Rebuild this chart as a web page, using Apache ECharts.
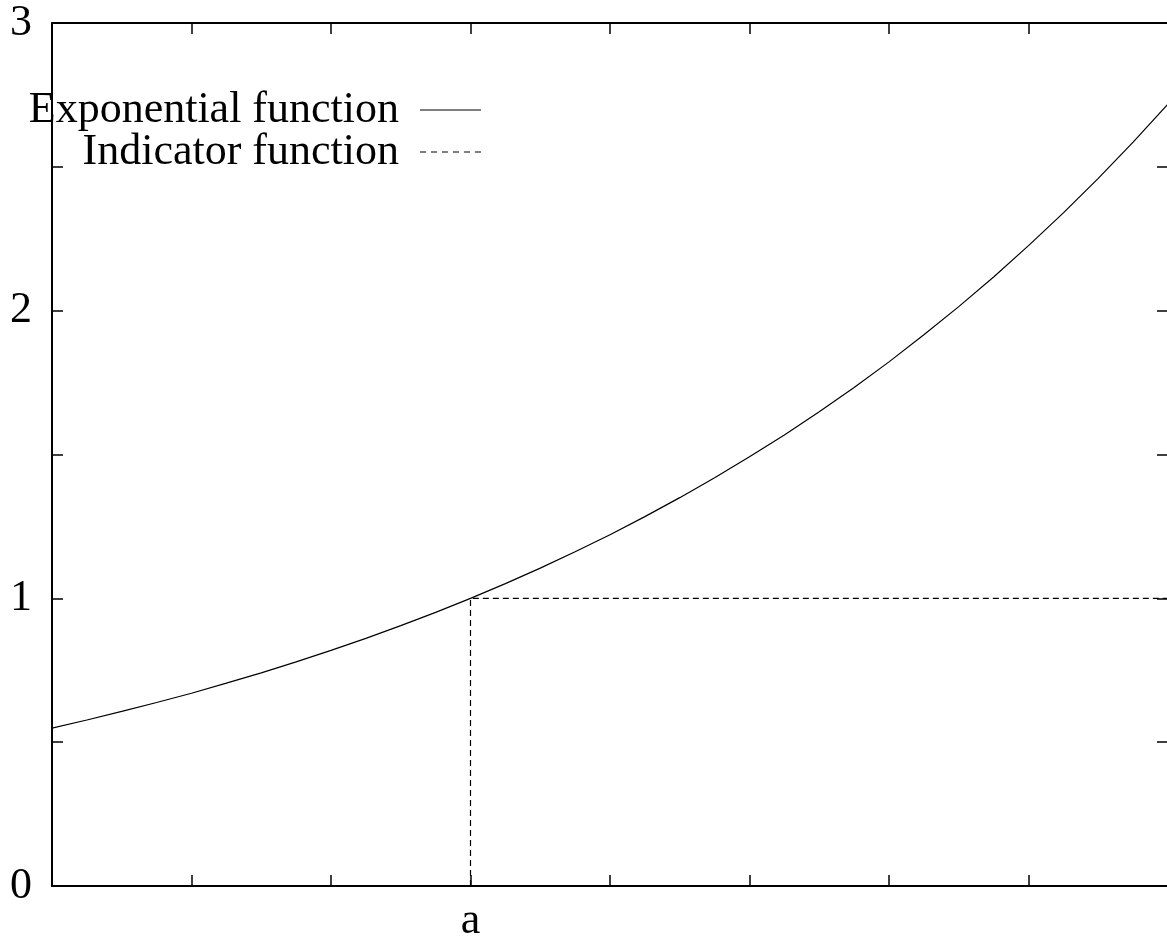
<!DOCTYPE html>
<html>
<head>
<meta charset="utf-8">
<script src="https://cdn.jsdelivr.net/npm/echarts@6/dist/echarts.min.js"></script>
<style>
  html, body { margin: 0; padding: 0; background: #fff; }
  #chart { width: 1167px; height: 937px; }
</style>
</head>
<body>
<div id="chart"></div>
<script>
// values
const xValues = [-0.6, -0.55, -0.5, -0.45, -0.4, -0.35, -0.3, -0.25, -0.2, -0.15, -0.1, -0.05,
  0, 0.05, 0.1, 0.15, 0.2, 0.25, 0.3, 0.35, 0.4, 0.45, 0.5, 0.55, 0.6, 0.65, 0.7, 0.75, 0.8, 0.85, 0.9, 0.95, 1.0];
const expValues = [0.549, 0.577, 0.607, 0.638, 0.670, 0.705, 0.741, 0.779, 0.819, 0.861, 0.905, 0.951,
  1.0, 1.051, 1.105, 1.162, 1.221, 1.284, 1.350, 1.419, 1.492, 1.568, 1.649, 1.733, 1.822, 1.916, 2.014, 2.117, 2.226, 2.340, 2.460, 2.586, 2.718];
const indicatorX = [0, 0, 1.0];
const indicatorY = [0, 1, 1];
const xTickLabels = { 0: 'a' };
const yTickLabels = [0, 1, 2, 3];

const font = 'Liberation Serif, Times New Roman, serif';

const chart = echarts.init(document.getElementById('chart'));

// legend samples: a plain bar and a row of dashes
const solidIcon = 'path://M0,0h60v1h-60z';
const dashIcon = 'path://M0,0h6v1h-6z M10.8,0h6v1h-6z M21.6,0h6v1h-6z M32.4,0h6v1h-6z M43.2,0h6v1h-6z M54,0h6v1h-6z';

const legendBase = {
  orient: 'vertical',
  right: 686,
  padding: 0,
  align: 'right',
  itemWidth: 61,
  itemHeight: 1.2,
  symbolKeepAspect: false,
  selectedMode: false,
  itemStyle: { color: '#000', borderWidth: 0 },
  textStyle: {
    fontFamily: font,
    fontSize: 44,
    lineHeight: 44,
    color: '#000',
    padding: [0, 16, 0, 0],
  },
};

const tick = { show: true, inside: true, length: 11, lineStyle: { color: '#000', width: 1.5 } };
const axisLine = { show: true, onZero: false, lineStyle: { color: '#000', width: 2 } };

const option = {
  animation: false,
  backgroundColor: '#fff',
  grid: { left: 52, top: 23, width: 1116, height: 863, outerBoundsMode: 'none', containLabel: false },
  legend: [
    Object.assign({}, legendBase, { top: 88, data: [{ name: 'Exponential function', icon: solidIcon }] }),
    Object.assign({}, legendBase, { top: 130, data: [{ name: 'Indicator function', icon: dashIcon }] }),
  ],
  xAxis: [
    {
      type: 'value',
      min: -0.6,
      max: 1.0,
      interval: 0.2,
      position: 'bottom',
      axisLine: axisLine,
      axisTick: tick,
      splitLine: { show: false },
      axisLabel: {
        fontFamily: font,
        fontSize: 44,
        color: '#000',
        margin: 13,
        formatter: (v) => {
          const k = Math.round(v * 10) / 10;
          return xTickLabels[k] !== undefined ? xTickLabels[k] : '';
        },
      },
    },
    {
      type: 'value',
      min: -0.6,
      max: 1.0,
      interval: 0.2,
      position: 'top',
      axisLine: axisLine,
      axisTick: tick,
      splitLine: { show: false },
      axisLabel: { show: false },
    },
  ],
  yAxis: [
    {
      type: 'value',
      min: 0,
      max: 3,
      interval: 0.5,
      position: 'left',
      axisLine: axisLine,
      axisTick: tick,
      splitLine: { show: false },
      axisLabel: {
        fontFamily: font,
        fontSize: 44,
        color: '#000',
        margin: 20,
        formatter: (v) => (yTickLabels.indexOf(v) >= 0 ? String(v) : ''),
      },
    },
    {
      type: 'value',
      min: 0,
      max: 3,
      interval: 0.5,
      position: 'right',
      axisLine: { show: false, onZero: false },
      axisTick: tick,
      splitLine: { show: false },
      axisLabel: { show: false },
    },
  ],
  series: [
    {
      name: 'Exponential function',
      type: 'line',
      symbol: 'none',
      lineStyle: { color: '#000', width: 1.2 },
      itemStyle: { color: '#000' },
      data: xValues.map((x, i) => [x, expValues[i]]),
    },
    {
      name: 'Indicator function',
      type: 'line',
      symbol: 'none',
      lineStyle: { color: '#000', width: 1.2, type: [6, 4] },
      itemStyle: { color: '#000' },
      data: indicatorX.map((x, i) => [x, indicatorY[i]]),
    },
  ],
};

chart.setOption(option);
</script>
</body>
</html>
